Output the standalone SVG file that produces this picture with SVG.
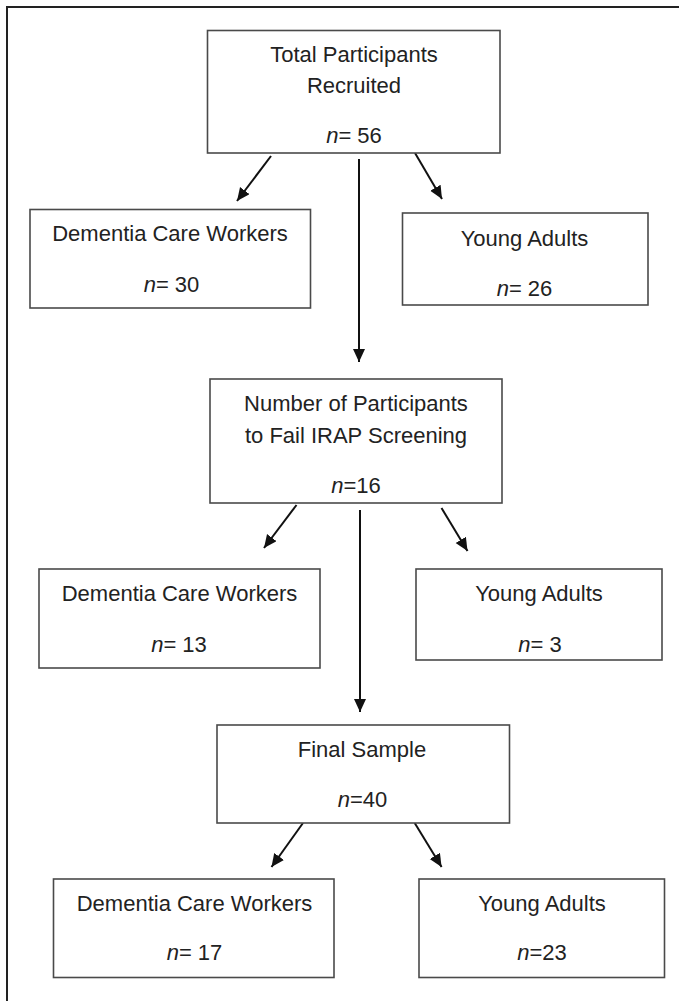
<svg xmlns="http://www.w3.org/2000/svg" width="679" height="1001" viewBox="0 0 679 1001">
<style>
.box{fill:#fff;stroke:#4a4a4a;stroke-width:1.6}
.t{font-family:"Liberation Sans",Arial,sans-serif;font-size:22px;fill:#222;text-anchor:middle}
.i{font-style:italic}
.c{stroke:#111;stroke-width:2;fill:none}
</style>
<defs>
<marker id="ah" markerUnits="userSpaceOnUse" markerWidth="14" markerHeight="13" refX="13" refY="6" orient="auto">
<path d="M0,0 L13,6 L0,12 z" fill="#111"/>
</marker>
</defs>
<rect width="679" height="1001" fill="#fff"/>
<path d="M7,1001 V7 H679" fill="none" stroke="#222" stroke-width="2"/>
<g id="connectors">
<line class="c" x1="271" y1="156" x2="237" y2="201" marker-end="url(#ah)"/>
<line class="c" x1="415" y1="153" x2="442" y2="199" marker-end="url(#ah)"/>
<line class="c" x1="359" y1="159" x2="359" y2="362" marker-end="url(#ah)"/>
<line class="c" x1="296.5" y1="505" x2="264" y2="548" marker-end="url(#ah)"/>
<line class="c" x1="441.5" y1="508" x2="467.5" y2="551" marker-end="url(#ah)"/>
<line class="c" x1="360" y1="510" x2="360" y2="712" marker-end="url(#ah)"/>
<line class="c" x1="303" y1="823" x2="271.5" y2="867" marker-end="url(#ah)"/>
<line class="c" x1="414.7" y1="823" x2="441.6" y2="867" marker-end="url(#ah)"/>
</g>
<g id="total">
<rect class="box" x="207.5" y="30.5" width="292.5" height="122.5"/>
<text class="t" x="354" y="62">Total Participants</text>
<text class="t" x="354" y="93">Recruited</text>
<text class="t" x="354" y="143"><tspan class="i">n</tspan>= 56</text>
</g>
<g id="dcw1">
<rect class="box" x="30" y="209.5" width="280.5" height="98.5"/>
<text class="t" x="170" y="241">Dementia Care Workers</text>
<text class="t" x="171.5" y="292"><tspan class="i">n</tspan>= 30</text>
</g>
<g id="ya1">
<rect class="box" x="402.5" y="213" width="245.5" height="92"/>
<text class="t" x="524.5" y="246">Young Adults</text>
<text class="t" x="524.5" y="296"><tspan class="i">n</tspan>= 26</text>
</g>
<g id="fail">
<rect class="box" x="210" y="379" width="292" height="124"/>
<text class="t" x="356" y="411">Number of Participants</text>
<text class="t" x="356" y="443">to Fail IRAP Screening</text>
<text class="t" x="356" y="493"><tspan class="i">n</tspan>=16</text>
</g>
<g id="dcw2">
<rect class="box" x="39" y="569" width="281" height="99"/>
<text class="t" x="179.5" y="601">Dementia Care Workers</text>
<text class="t" x="179" y="652"><tspan class="i">n</tspan>= 13</text>
</g>
<g id="ya2">
<rect class="box" x="416" y="569" width="246" height="91"/>
<text class="t" x="539" y="601">Young Adults</text>
<text class="t" x="540" y="652"><tspan class="i">n</tspan>= 3</text>
</g>
<g id="final">
<rect class="box" x="217" y="725" width="292.5" height="98"/>
<text class="t" x="362" y="757">Final Sample</text>
<text class="t" x="362.5" y="807"><tspan class="i">n</tspan>=40</text>
</g>
<g id="dcw3">
<rect class="box" x="53.5" y="879" width="280.5" height="98.5"/>
<text class="t" x="194.5" y="911">Dementia Care Workers</text>
<text class="t" x="194.5" y="960"><tspan class="i">n</tspan>= 17</text>
</g>
<g id="ya3">
<rect class="box" x="419" y="879" width="245.5" height="98.5"/>
<text class="t" x="542" y="911">Young Adults</text>
<text class="t" x="542" y="960"><tspan class="i">n</tspan>=23</text>
</g>
</svg>
